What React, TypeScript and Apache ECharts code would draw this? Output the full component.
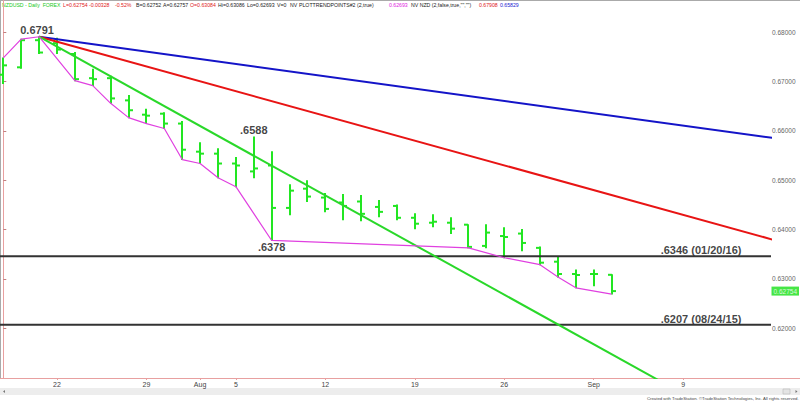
import React, { useEffect, useRef } from "react";
import * as echarts from "echarts";

// ---- data ----
const days = [
  "Jul 17", "Jul 18", "Jul 19", "Jul 22", "Jul 23", "Jul 24", "Jul 25", "Jul 26",
  "Jul 29", "Jul 30", "Jul 31", "Aug 1", "Aug 2", "Aug 5", "Aug 6", "Aug 7",
  "Aug 8", "Aug 9", "Aug 12", "Aug 13", "Aug 14", "Aug 15", "Aug 16", "Aug 19",
  "Aug 20", "Aug 21", "Aug 22", "Aug 23", "Aug 26", "Aug 27", "Aug 28", "Aug 29",
  "Aug 30", "Sep 2", "Sep 3",
];
const opens = [
  0.6714, 0.6729, 0.6784, 0.6778, 0.6756, 0.6707, 0.6707, 0.6662, 0.6633, 0.6635,
  0.6615, 0.6558, 0.6554, 0.6534, 0.6518, 0.6530, 0.6444, 0.6483, 0.6465, 0.6455,
  0.6457, 0.6446, 0.6448, 0.6424, 0.6414, 0.6414, 0.6410, 0.6367, 0.6387, 0.6392,
  0.6363, 0.6335, 0.6310, 0.6310, 0.63084,
];
const highs = [
  0.6748, 0.6786, 0.6791, 0.6788, 0.6759, 0.6725, 0.6711, 0.6672, 0.6644, 0.6637,
  0.6619, 0.6576, 0.6564, 0.6546, 0.6588, 0.6558, 0.6491, 0.6499, 0.6473, 0.6471,
  0.6469, 0.6459, 0.6450, 0.6432, 0.6430, 0.6424, 0.6410, 0.6410, 0.6404, 0.6400,
  0.6365, 0.6345, 0.6318, 0.6318, 0.63086,
];
const lows = [
  0.6696, 0.6727, 0.6757, 0.6757, 0.6702, 0.6692, 0.6656, 0.6627, 0.6615, 0.6605,
  0.6542, 0.6534, 0.6505, 0.6487, 0.6505, 0.6378, 0.6430, 0.6457, 0.6436, 0.6420,
  0.6418, 0.6426, 0.6420, 0.6402, 0.6406, 0.6392, 0.6363, 0.6363, 0.6343, 0.6357,
  0.6329, 0.6304, 0.6282, 0.6286, 0.62693,
];
const closes = [
  0.6733, 0.6784, 0.6759, 0.6765, 0.6705, 0.6705, 0.6666, 0.6642, 0.6631, 0.6615,
  0.6562, 0.6554, 0.6534, 0.6530, 0.6524, 0.6444, 0.6479, 0.6467, 0.6442, 0.6448,
  0.6432, 0.6436, 0.6424, 0.6412, 0.6416, 0.6402, 0.6365, 0.6394, 0.6385, 0.6373,
  0.6333, 0.6310, 0.6308, 0.6310, 0.62754,
];

const dateTickDays = [3, 8, 11, 13, 18, 23, 28, 33, 38];
const dateTickLabels = ["22", "29", "Aug", "5", "12", "19", "26", "Sep", "9"];
const priceTicks = [0.62, 0.63, 0.64, 0.65, 0.66, 0.67, 0.68];

// trend points (indices); first ones pivot on highs, rest on lows
const trendPointHighDays = [0, 1, 2];
const trendPointLowDays = [4, 5, 6, 7, 8, 9, 10, 11, 12, 13, 15, 26, 28, 30, 31, 32, 34];

const blueTrend = [[2, 0.6791], [43, 0.65859]];
const redTrend = [[2, 0.6791], [43, 0.63798]];
const greenTrend = [[2, 0.6791], [43, 0.59665]];

const supportLevels = [0.6346, 0.6207];
const supportLabels = [".6346 (01/20/16)", ".6207 (08/24/15)"];
const supportLabelDay = 39;

const annotationDays = [2, 14, 15];
const annotationValues = [0.6791, 0.6588, 0.6378];
const annotationTexts = ["0.6791", ".6588", ".6378"];
const annotationAbove = [true, true, false];

const lastPrice = 0.62754;

const headerParts: [number, string, string][] = [
  [2, "NZDUSD - Daily  FOREX", "#19c919"],
  [63, "L=0.62754", "#e02020"],
  [89, "-0.00328", "#e02020"],
  [115, "-0.52%", "#e02020"],
  [136, "B=0.62752", "#222"],
  [163, "A=0.62757", "#222"],
  [190, "O=0.63084", "#e02020"],
  [218, "Hi=0.63086", "#222"],
  [247, "Lo=0.62693", "#222"],
  [277, "V=0", "#222"],
  [290, "NV", "#222"],
  [299, "PLOTTRENDPOINTS#2 (2,true)", "#222"],
  [389, "0.62693", "#e020e0"],
  [411, "NV NZD (2,false,true,\"\",\"\")", "#222"],
  [479, "0.67908", "#e02020"],
  [500, "0.65829", "#2020d0"],
];

// ---- layout ----
const X_MIN = -0.1845;
const X_MAX = 42.91;
const Y_MIN = 0.609921;
const Y_MAX = 0.686548;
const BAR_GREEN = "#22e622";
const AXIS_PINK = "#e8a0a0";
const FONT = "Arial, 'Liberation Sans', sans-serif";

export default function App() {
  const ref = useRef<HTMLDivElement>(null);

  useEffect(() => {
    if (!ref.current) return;
    const chart = echarts.init(ref.current, undefined, { renderer: "svg" });

    const ohlc = days.map((_, i) => [i, opens[i], highs[i], lows[i], closes[i]]);
    const trendDays = [...trendPointHighDays, ...trendPointLowDays];
    const trendData = trendDays.map((d) => [d, trendPointHighDays.includes(d) ? highs[d] : lows[d]]);

    const header = headerParts.map(([x, text, color]) => ({
      type: "text",
      left: x,
      top: 2,
      silent: true,
      style: { text, fill: color, fontSize: 5.2, fontFamily: FONT },
    }));

    const option: any = {
      animation: false,
      backgroundColor: "#fff",
      grid: { left: 0, right: 29, top: 0, bottom: 24, containLabel: false, outerBoundsMode: "none" },
      xAxis: {
        type: "value",
        min: X_MIN,
        max: X_MAX,
        position: "bottom",
        splitLine: { show: false },
        axisLine: { show: true, lineStyle: { color: AXIS_PINK, width: 1 } },
        axisTick: { show: true, customValues: dateTickDays, length: 2, lineStyle: { color: AXIS_PINK } },
        axisLabel: {
          show: true,
          customValues: dateTickDays,
          formatter: (v: number) => {
            const k = dateTickDays.indexOf(Math.round(v));
            return k >= 0 ? dateTickLabels[k] : "";
          },
          fontSize: 7,
          color: "#444",
          fontFamily: FONT,
          margin: 3,
        },
      },
      yAxis: {
        type: "value",
        position: "right",
        min: Y_MIN,
        max: Y_MAX,
        splitLine: { show: false },
        axisLine: { show: true, lineStyle: { color: AXIS_PINK, width: 1 } },
        axisTick: { show: true, customValues: priceTicks, length: 3, lineStyle: { color: "#c08080" } },
        axisLabel: {
          show: true,
          customValues: priceTicks,
          formatter: (v: number) => v.toFixed(5),
          fontSize: 6.5,
          color: "#666",
          fontFamily: FONT,
          margin: 1,
        },
      },
      series: [
        {
          type: "line",
          data: [[X_MIN, supportLevels[0]], [X_MAX, supportLevels[0]]],
          showSymbol: false,
          lineStyle: { color: "#333", width: 2 },
          silent: true,
        },
        {
          type: "line",
          data: [[X_MIN, supportLevels[1]], [X_MAX, supportLevels[1]]],
          showSymbol: false,
          lineStyle: { color: "#333", width: 2 },
          silent: true,
        },
        {
          type: "line",
          data: blueTrend,
          showSymbol: false,
          clip: true,
          lineStyle: { color: "#1414c8", width: 2 },
        },
        {
          type: "line",
          data: redTrend,
          showSymbol: false,
          clip: true,
          lineStyle: { color: "#e81414", width: 2 },
        },
        {
          type: "line",
          data: greenTrend,
          showSymbol: false,
          clip: true,
          lineStyle: { color: "#2ad82a", width: 2 },
        },
        {
          type: "line",
          data: trendData,
          showSymbol: false,
          clip: true,
          lineStyle: { color: "#e040e0", width: 1.2 },
        },
        {
          type: "custom",
          data: ohlc,
          clip: true,
          encode: { x: 0, y: [1, 2, 3, 4] },
          renderItem: (_params: any, api: any) => {
            const i = api.value(0);
            const o = api.coord([i, api.value(1)]);
            const h = api.coord([i, api.value(2)]);
            const l = api.coord([i, api.value(3)]);
            const c = api.coord([i, api.value(4)]);
            const x = Math.round(h[0]);
            const st = { stroke: BAR_GREEN, lineWidth: 2 };
            return {
              type: "group",
              children: [
                { type: "line", shape: { x1: x, y1: h[1] - 0.5, x2: x, y2: l[1] + 0.5 }, style: st },
                { type: "line", shape: { x1: x - 4, y1: o[1], x2: x, y2: o[1] }, style: st },
                { type: "line", shape: { x1: x, y1: c[1], x2: x + 4, y2: c[1] }, style: st },
              ],
            };
          },
        },
        {
          type: "scatter",
          clip: false,
          symbolSize: 1,
          itemStyle: { color: "rgba(0,0,0,0)" },
          silent: true,
          data: annotationDays.map((d, k) => ({
            value: [d, annotationValues[k]],
            label: {
              show: true,
              formatter: annotationTexts[k],
              position: annotationAbove[k] ? "top" : "bottom",
              distance: 1,
              offset: k === 0 ? [-2, 0] : [0, 0],
              fontSize: 11,
              fontWeight: "bold",
              color: "#111",
              fontFamily: FONT,
            },
          })),
        },
        {
          type: "scatter",
          clip: false,
          symbolSize: 1,
          itemStyle: { color: "rgba(0,0,0,0)" },
          silent: true,
          data: supportLevels.map((v, k) => ({
            value: [supportLabelDay, v],
            label: {
              show: true,
              formatter: supportLabels[k],
              position: "top",
              distance: 0,
              fontSize: 11,
              fontWeight: "bold",
              color: "#111",
              fontFamily: FONT,
            },
          })),
        },
        {
          type: "scatter",
          clip: false,
          symbolSize: 1,
          itemStyle: { color: "rgba(0,0,0,0)" },
          silent: true,
          data: [
            {
              value: [X_MAX, lastPrice],
              label: {
                show: true,
                formatter: lastPrice.toFixed(5),
                position: "right",
                distance: 0,
                fontSize: 6.5,
                color: "#fff",
                fontFamily: FONT,
                backgroundColor: "#18e018",
                padding: [1, 2, 1, 2],
              },
            },
          ],
        },
      ],
      graphic: [
        { type: "line", silent: true, shape: { x1: 0, y1: 0.5, x2: 800, y2: 0.5 }, style: { stroke: "#aaa", lineWidth: 1 } },
        { type: "line", silent: true, shape: { x1: 0.5, y1: 0, x2: 0.5, y2: 378 }, style: { stroke: "#aaa", lineWidth: 1 } },
        { type: "line", silent: true, shape: { x1: 771, y1: 378.5, x2: 800, y2: 378.5 }, style: { stroke: AXIS_PINK, lineWidth: 1 } },
        { type: "rect", silent: true, shape: { x: 0, y: 388, width: 800, height: 7 }, style: { fill: "#ededed" } },
        { type: "rect", silent: true, shape: { x: 783, y: 389, width: 7, height: 5 }, style: { fill: "#e4e4e4", stroke: "#bbb", lineWidth: 0.6 } },
        { type: "polygon", silent: true, shape: { points: [[3, 391.5], [5, 390], [5, 393]] }, style: { fill: "#777" } },
        { type: "polygon", silent: true, shape: { points: [[797.5, 391.5], [795.5, 390], [795.5, 393]] }, style: { fill: "#777" } },
        {
          type: "text",
          silent: true,
          right: 1,
          top: 396.5,
          style: {
            text: "Created with TradeStation. \u00a9TradeStation Technologies, Inc. All rights reserved.",
            fill: "#444",
            fontSize: 4.3,
            fontFamily: FONT,
          },
        },
        ...header,
      ],
    };

    chart.setOption(option);
    return () => chart.dispose();
  }, []);

  return (
    <div
      ref={ref}
      style={{ position: "absolute", left: 0, top: 0, width: 800, height: 402 }}
    />
  );
}
